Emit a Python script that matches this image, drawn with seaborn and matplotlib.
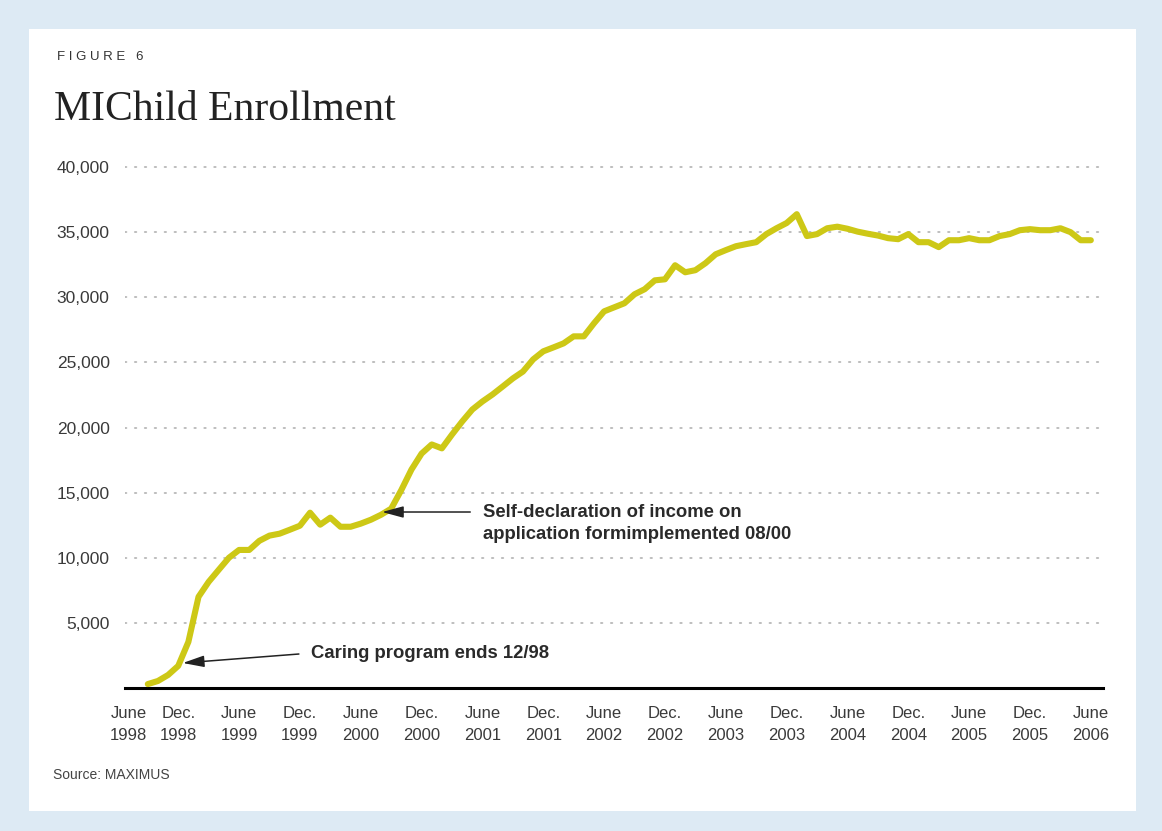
import matplotlib
matplotlib.use('Agg')
import matplotlib.pyplot as plt
import matplotlib.patches as patches
import seaborn as sns
import numpy as np
import pandas as pd

# months since June 1998 (Sep 1998 .. June 2006)
months = list(range(3, 97))
enrollment = [
    300, 540, 1000, 1700, 3540, 7000, 8150, 9080, 10000, 10600,
    10600, 11300, 11700, 11850, 12150, 12460, 13460, 12540, 13080, 12380,
    12380, 12620, 12920, 13300, 13770, 15200, 16770, 18000, 18700, 18400,
    19460, 20460, 21380, 22000, 22540, 23150, 23770, 24300, 25230, 25850,
    26150, 26460, 27000, 27000, 28000, 28920, 29230, 29540, 30230, 30620,
    31300, 31380, 32460, 31920, 32080, 32620, 33300, 33620, 33920, 34080,
    34230, 34850, 35300, 35700, 36380, 34700, 34850, 35300, 35420, 35260,
    35040, 34880, 34740, 34540, 34460, 34850, 34230, 34230, 33850, 34380,
    34380, 34540, 34380, 34380, 34700, 34850, 35150, 35230, 35150, 35150,
    35300, 35000, 34380, 34380,
]

tick_months = [1.1, 6, 12, 18, 24, 30, 36, 42, 48, 54, 60, 66, 72, 78, 84, 90, 96]
tick_labels = ['June\n1998', 'Dec.\n1998', 'June\n1999', 'Dec.\n1999', 'June\n2000',
               'Dec.\n2000', 'June\n2001', 'Dec.\n2001', 'June\n2002', 'Dec.\n2002',
               'June\n2003', 'Dec.\n2003', 'June\n2004', 'Dec.\n2004', 'June\n2005',
               'Dec.\n2005', 'June\n2006']
y_ticks = [5000, 10000, 15000, 20000, 25000, 30000, 35000, 40000]

df = pd.DataFrame({'month': months, 'enrollment': enrollment})

sns.set_style('white')
plt.rcParams['font.family'] = ['Liberation Sans', 'DejaVu Sans']

fig = plt.figure(figsize=(11.62, 8.31), dpi=100)
fig.patch.set_facecolor('#ddeaf4')
# white panel inside the light blue frame
fig.patches.append(patches.Rectangle((29 / 1162, 1 - 811 / 831), 1107 / 1162, 782 / 831,
                                     transform=fig.transFigure, facecolor='white',
                                     edgecolor='none', zorder=-5))

ax = fig.add_axes([125 / 1162, 1 - 688 / 831, 978 / 1162, 528 / 831])
ax.set_facecolor('none')
ax.set_zorder(2)

sns.lineplot(data=df, x='month', y='enrollment', ax=ax, color='#cdc816',
             linewidth=4.4, zorder=3)

ax.set_xlim(0.75, 97.2)
ax.set_ylim(0, 40540)
ax.set_yticks(y_ticks)
ax.set_yticklabels([f'{v:,}' for v in y_ticks])
ax.set_xticks(tick_months)
ax.set_xticklabels(tick_labels, linespacing=1.55)
ax.set_xlabel('')
ax.set_ylabel('')

ax.yaxis.grid(True, color='#bdbdbd', linewidth=1.4, linestyle=(0, (0.7, 4.4)),
              dash_capstyle='round')
ax.xaxis.grid(False)
for s in ['left', 'right', 'top']:
    ax.spines[s].set_visible(False)
ax.spines['bottom'].set_linewidth(2.2)
ax.spines['bottom'].set_color('black')

ax.tick_params(axis='y', length=0, labelsize=12.5, labelcolor='#3a3a3a', pad=11)
ax.tick_params(axis='x', direction='in', length=5, width=1.6, color='black',
               labelsize=12, labelcolor='#3a3a3a', pad=13)
ax.xaxis.get_major_ticks()[0].tick1line.set_visible(False)

arrow = dict(arrowstyle='-|>,head_length=1.3,head_width=0.35', color='#222222',
             lw=1.1, shrinkA=0, shrinkB=0)
ax.annotate('', xy=(26.1, 13513), xytext=(34.8, 13513), arrowprops=dict(arrow))
ax.text(36.1, 12630, 'Self-declaration of income on\napplication formimplemented 08/00',
        fontsize=13.3, fontweight='bold', color='#2a2a2a', va='center', ha='left',
        linespacing=1.4)
ax.annotate('', xy=(6.45, 1920), xytext=(17.9, 2610), arrowprops=dict(arrow))
ax.text(19.1, 2687, 'Caring program ends 12/98', fontsize=13.3, fontweight='bold',
        color='#2a2a2a', va='center', ha='left')

fig.text(57 / 1162, 1 - 57 / 831, 'F I G U R E   6', fontsize=9.5, color='#333333',
         va='center', ha='left')
fig.text(54 / 1162, 1 - 120 / 831, 'MIChild Enrollment', fontsize=30,
         family=['Liberation Serif', 'DejaVu Serif'], color='#222222',
         va='baseline', ha='left')
fig.text(53 / 1162, 1 - 775 / 831, 'Source: MAXIMUS', fontsize=10, color='#444444',
         va='center', ha='left')

fig.savefig('out.png', dpi=100, facecolor=fig.get_facecolor())
